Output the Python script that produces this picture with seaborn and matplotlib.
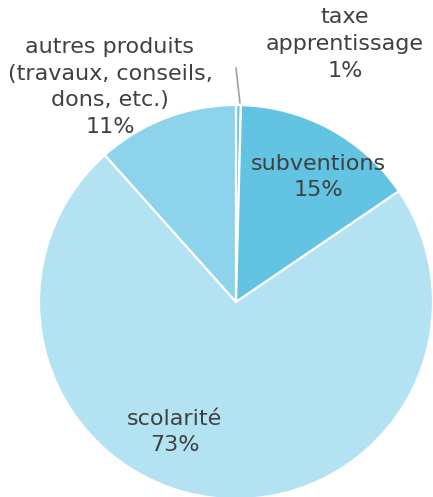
import numpy as np
import pandas as pd
import matplotlib
matplotlib.use("Agg")
import matplotlib.pyplot as plt
import seaborn as sns

# data, clockwise from the top
categories = ["taxe apprentissage", "subventions", "scolarité", "autres produits"]
shares = [0.4, 15.1, 72.9, 11.6]
labels = ["taxe\napprentissage\n1%", "subventions\n15%", "scolarité\n73%",
          "autres produits\n(travaux, conseils,\ndons, etc.)\n11%"]
colors = ["#6cc7e4", "#62c3e3", "#b3e2f2", "#8dd3ec"]

sns.set_theme(style="white")
plt.rcParams['font.family'] = ['DejaVu Sans']

df = pd.DataFrame({"cat": categories, "share": shares, "label": labels})

fig = plt.figure(figsize=(4.33, 4.97), dpi=100)
ax = fig.add_axes([0, 0, 1, 1])
ax.pie(df["share"], colors=colors, startangle=90, counterclock=False,
       radius=1, center=(0, 0),
       wedgeprops=dict(edgecolor="white", linewidth=1.6))
ax.set_xlim(-236/197, (433-236)/197)
ax.set_ylim(-195/197, 302/197)
ax.set_aspect("auto")
ax.axis("off")

txt = "#404040"
fs = 16
ls = 1.42
ax.text(-0.64, 1.091, df["label"][3], ha="center", va="center", fontsize=fs,
        color=txt, linespacing=ls)
ax.text(0.553, 1.31, df["label"][0], ha="center", va="center", fontsize=fs,
        color=txt, linespacing=ls)
ax.text(0.416, 0.635, df["label"][1], ha="center", va="center", fontsize=fs,
        color=txt, linespacing=ls)
ax.text(-0.31, -0.66, df["label"][2], ha="center", va="center", fontsize=fs,
        color=txt, linespacing=ls)
# leader line for the small slice
ax.plot([(240-236)/197, (236-236)/197], [(302-103)/197, (302-68)/197],
        color="#a0a0a0", lw=1.2)

fig.savefig("out.png", dpi=100)
